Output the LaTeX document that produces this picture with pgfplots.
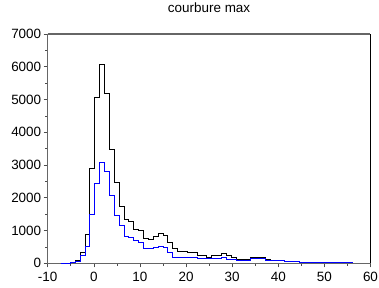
\documentclass[border=0pt]{standalone}
\usepackage{fontspec}
\setmainfont{Liberation Sans}
\usepackage{pgfplots}
\pgfplotsset{compat=1.18}
\begin{document}
\begin{tikzpicture}
\begin{axis}[
  name=ax,
  scale only axis,
  width=322.8bp, height=229.3bp,
  xmin=-10, xmax=60, ymin=0, ymax=7000,
  xtick={-10,0,10,20,30,40,50,60},
  xticklabels={{-10},0,10,20,30,40,50,60},
  ytick={0,1000,2000,3000,4000,5000,6000,7000},
  yticklabels={0,1000,2000,3000,4000,5000,6000,7000},
  minor x tick num=1, minor y tick num=1,
  tick align=outside, xtick pos=bottom, ytick pos=left,
  major tick length=4bp, minor tick length=2.5bp,
  tick style={black!70, line width=0.6pt},
  axis line style={black!60, line width=0.8pt},
  ticklabel style={font=\fontsize{13.5}{15}\selectfont},
  yticklabel style={xshift=1bp},
  xticklabel style={yshift=-1bp},
  title={courbure max},
  title style={at={(0.5,1)}, anchor=base, yshift=15.5bp, font=\fontsize{13.5}{15}\selectfont},
]
\addplot[const plot, black, line width=0.8pt] coordinates {
(-7.200,5) (-6.143,10) (-5.086,20) (-4.029,90) (-2.972,340) (-1.915,870) (-0.858,2890) (0.199,5075) (1.256,6080) (2.313,5200) (3.370,3490) (4.427,2475) (5.484,1740) (6.541,1340) (7.598,1290) (8.655,1035) (9.712,1013) (10.769,750) (11.826,737) (12.883,807) (13.940,900) (14.997,860) (16.054,635) (17.111,451) (18.168,368) (19.225,368) (20.282,320) (21.339,320) (22.396,250) (23.453,250) (24.510,180) (25.567,250) (26.624,250) (27.681,300) (28.738,235) (29.795,180) (30.852,125) (31.909,125) (32.966,125) (34.023,195) (35.080,195) (36.137,195) (37.194,130) (38.251,100) (39.308,100) (40.365,100) (41.422,60) (42.479,60) (43.536,60) (44.593,40) (45.650,35) (46.707,35) (47.764,30) (48.821,30) (49.878,30) (50.935,25) (51.992,25) (53.049,25) (54.106,20) (55.163,20) (56.220,20)
};
\addplot[const plot, blue, line width=0.8pt] coordinates {
(-7.200,5) (-6.143,8) (-5.086,15) (-4.029,50) (-2.972,245) (-1.915,530) (-0.858,1500) (0.199,2450) (1.256,3090) (2.313,2810) (3.370,2066) (4.427,1452) (5.484,1160) (6.541,830) (7.598,790) (8.655,706) (9.712,640) (10.769,470) (11.826,470) (12.883,490) (13.940,531) (14.997,500) (16.054,347) (17.111,193) (18.168,175) (19.225,175) (20.282,184) (21.339,184) (22.396,153) (23.453,153) (24.510,153) (25.567,140) (26.624,140) (27.681,175) (28.738,130) (29.795,130) (30.852,92) (31.909,92) (32.966,92) (34.023,143) (35.080,143) (36.137,143) (37.194,92) (38.251,92) (39.308,92) (40.365,92) (41.422,60) (42.479,60) (43.536,60) (44.593,40) (45.650,35) (46.707,35) (47.764,30) (48.821,30) (49.878,30) (50.935,25) (51.992,25) (53.049,25) (54.106,20) (55.163,20) (56.220,20)
};
\end{axis}
\draw[black!60, line width=1.2pt] (ax.north west) -- (ax.north east);
\draw[black, line width=1.2pt] (ax.south east) -- (ax.north east);
\pgfresetboundingbox
\path (-47.7bp,-24.7bp) rectangle (331.3bp,263.3bp);
\end{tikzpicture}
\end{document}
